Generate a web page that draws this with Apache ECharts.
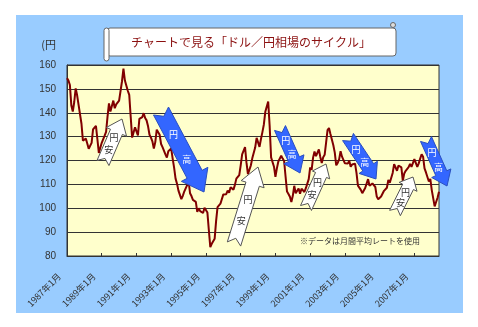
<!DOCTYPE html>
<html><head><meta charset="utf-8">
<script src="https://cdn.jsdelivr.net/npm/echarts/dist/echarts.min.js"></script>
<style>html,body{margin:0;padding:0;background:#fff}#c{width:478px;height:327px}</style>
</head><body><div id="c"></div>
<script>
// ---- data (monthly average USD/JPY, 1987/01 - 2008/06) ----
const startYear = 1987;
const rates = [
  154.5,153.5,151.6,143.0,140.5,144.5,150.2,147.3,143.3,143.3,135.4,128.3, // 1987
  127.6,129.2,127.1,124.9,124.8,127.4,133.0,133.5,134.5,128.9,123.2,123.6, // 1988
  127.4,127.8,130.4,132.0,138.4,143.9,140.5,141.2,145.1,141.9,143.5,143.7, // 1989
  145.1,145.5,153.2,158.5,153.5,153.8,149.2,147.5,138.4,129.6,129.2,133.9, // 1990
  133.7,130.5,137.4,137.1,138.2,139.8,137.8,136.8,134.3,130.8,129.6,128.0, // 1991
  125.0,127.7,132.9,133.5,130.8,126.9,125.6,126.3,122.6,121.2,123.9,123.9, // 1992
  125.0,120.8,117.0,112.4,110.3,107.4,107.7,103.8,105.2,107.0,107.8,109.7, // 1993
  111.5,106.3,105.1,103.5,104.0,102.7, 98.5,100.0, 98.8, 98.4, 98.0,100.2, // 1994
   99.8, 98.2, 90.8, 83.7, 85.1, 84.6, 87.2, 94.6,100.5,100.7,101.9,101.9, // 1995
  105.8,105.7,105.9,107.4,106.5,108.8,109.2,107.8,109.8,112.4,112.3,113.9, // 1996
  118.0,122.6,122.7,125.6,119.1,114.3,115.1,117.9,120.9,121.1,125.4,129.5, // 1997
  129.4,125.7,129.0,131.9,135.1,140.4,140.7,144.7,134.5,121.3,120.6,117.4, // 1998
  113.2,116.7,119.6,119.8,122.0,120.8,119.8,113.3,107.0,106.0,104.8,102.6, // 1999
  105.2,109.4,106.3,105.6,108.3,106.1,108.2,108.1,106.8,108.4,108.9,112.2, // 2000
  117.1,116.1,121.2,123.8,121.8,122.2,124.6,121.5,118.9,121.4,122.4,127.5, // 2001
  132.7,133.6,131.1,130.8,126.4,123.3,118.0,119.0,120.5,123.9,121.6,121.9, // 2002
  118.8,119.3,118.7,119.9,117.4,118.3,118.7,118.7,114.8,109.5,109.2,107.7, // 2003
  106.3,106.6,108.5,107.7,112.2,109.4,109.3,110.4,110.0,108.9,104.9,103.8, // 2004
  103.3,104.9,105.3,107.3,106.9,108.6,111.9,110.7,111.0,114.8,118.5,118.8, // 2005
  115.7,117.9,117.3,117.1,111.5,114.6,115.7,115.9,117.2,118.6,117.3,117.3, // 2006
  120.6,120.5,117.3,118.8,120.8,122.6,121.6,116.7,115.0,115.8,111.2,112.3, // 2007
  107.6,107.1,100.8,102.6,104.4,106.9                                      // 2008
];
const categories = rates.map((v, i) => (startYear + Math.floor(i / 12)) + '年' + (i % 12 + 1) + '月');
const yMin = 80, yMax = 160, yStep = 10;
const titleText = 'チャートで見る「ドル／円相場のサイクル」';
const unitText = '(円';
const noteText = '※データは月間平均レートを使用';
const upText = ['円', '安'];
const downText = ['円', '高'];

// ---- annotation arrows (pixel geometry) ----
const arrows = [
  {kind:'up',   tail:[103,163], tip:[122,119], bw:13, hw:22, hl:14, nd:5},
  {kind:'down', tail:[161,111], tip:[204,192], bw:17, hw:30, hl:20, nd:6},
  {kind:'up',   tail:[234,244], tip:[258,167], bw:14, hw:24, hl:18, nd:6},
  {kind:'down', tail:[280,128], tip:[300,173], bw:12, hw:22, hl:15, nd:5},
  {kind:'up',   tail:[306,208], tip:[326,164], bw:12, hw:19, hl:12, nd:5},
  {kind:'down', tail:[348,137], tip:[376,179], bw:13, hw:22, hl:14, nd:5},
  {kind:'up',   tail:[395,213], tip:[413,177], bw:12, hw:20, hl:11, nd:5},
  {kind:'down', tail:[426,139], tip:[447,186], bw:12, hw:21, hl:14, nd:5}
];

function arrowGraphics(a) {
  const [tx, ty] = a.tail, [px, py] = a.tip;
  const dx = px - tx, dy = py - ty, L = Math.hypot(dx, dy);
  const ux = dx / L, uy = dy / L, nx = -uy, ny = ux;
  const b = a.bw / 2, h = a.hw / 2, base = L - a.hl;
  const P = (s, t) => [tx + ux * s + nx * t, ty + uy * s + ny * t];
  const pts = [P(0,b), P(base,b), P(base,h), P(L,0), P(base,-h), P(base,-b), P(0,-b), P(a.nd,0)];
  const up = a.kind === 'up';
  const out = [{
    type: 'polygon', z: 100,
    shape: {points: pts},
    style: up ? {fill:'#ffffff', stroke:'#555', lineWidth:1}
              : {fill:'#3366ff', stroke:'#2a4fc0', lineWidth:1}
  }];
  const txt = up ? upText : downText;
  const fr = up ? [0.58, 0.3] : [0.29, 0.6];
  txt.forEach((ch, i) => {
    const c = P(L * fr[i], 0);
    out.push({
      type: 'text', z: 101, x: c[0], y: c[1],
      style: {text: ch, fill: up ? '#333' : '#ffffff', font: '9px "Noto Sans CJK JP"',
              textAlign: 'center', textVerticalAlign: 'middle'}
    });
  });
  return out;
}

const graphics = [
  {type:'rect', z:-10, shape:{x:16, y:15, width:447, height:298}, style:{fill:'#99ccff'}},
  {type:'rect', z:50, shape:{x:107, y:28, width:289, height:28, r:3}, style:{fill:'#fff', stroke:'#666', lineWidth:1}},
  {type:'rect', z:51, shape:{x:104, y:28, width:5, height:33, r:2.5}, style:{fill:'#fff', stroke:'#666', lineWidth:1}},
  {type:'circle', z:51, shape:{cx:393, cy:25, r:2.5}, style:{fill:'#ddd', stroke:'#666', lineWidth:1}},
  {type:'text', z:52, x:251, y:42, style:{text:titleText, fill:'#8b1010', font:'12px "Noto Sans CJK JP"', textAlign:'center', textVerticalAlign:'middle'}},
  {type:'text', z:52, x:300, y:241, style:{text:noteText, fill:'#333', font:'8px "Noto Sans CJK JP"', textAlign:'left', textVerticalAlign:'middle'}}
];
arrows.forEach(a => graphics.push(...arrowGraphics(a)));

const chart = echarts.init(document.getElementById('c'), null, {renderer:'canvas'});
chart.setOption({
  animation: false,
  backgroundColor: 'transparent',
  grid: {left:67, right:39, top:65, bottom:71, show:true, backgroundColor:'#ffffcc', borderColor:'#333', borderWidth:1},
  xAxis: {
    type: 'category', data: categories, boundaryGap: false,
    axisLine: {lineStyle:{color:'#333', width:1}},
    axisTick: {show:true, inside:true, length:3, interval:23, lineStyle:{color:'#333'}},
    axisLabel: {interval:23, rotate:45, fontSize:9, color:'#333', margin:11, padding:[0,11,0,0], fontFamily:'"Noto Sans CJK JP"'},
    splitLine: {show:false}
  },
  yAxis: {
    type: 'value', min: yMin, max: yMax, interval: yStep,
    name: unitText, nameLocation: 'end', nameGap: 15,
    nameTextStyle: {align:'right', padding:[0,11,0,0], fontSize:11, color:'#333', fontFamily:'"Noto Sans CJK JP"'},
    axisLine: {show:true, lineStyle:{color:'#333'}},
    axisTick: {show:false},
    axisLabel: {fontSize:10, color:'#333', margin:11, fontFamily:'"Liberation Sans", Arial'},
    splitLine: {show:true, lineStyle:{color:'#333', width:1}}
  },
  series: [{
    type: 'line', data: rates, symbol: 'none', z: 5,
    lineStyle: {color:'#800000', width:2}
  }],
  graphic: graphics
});
</script>
</body></html>
